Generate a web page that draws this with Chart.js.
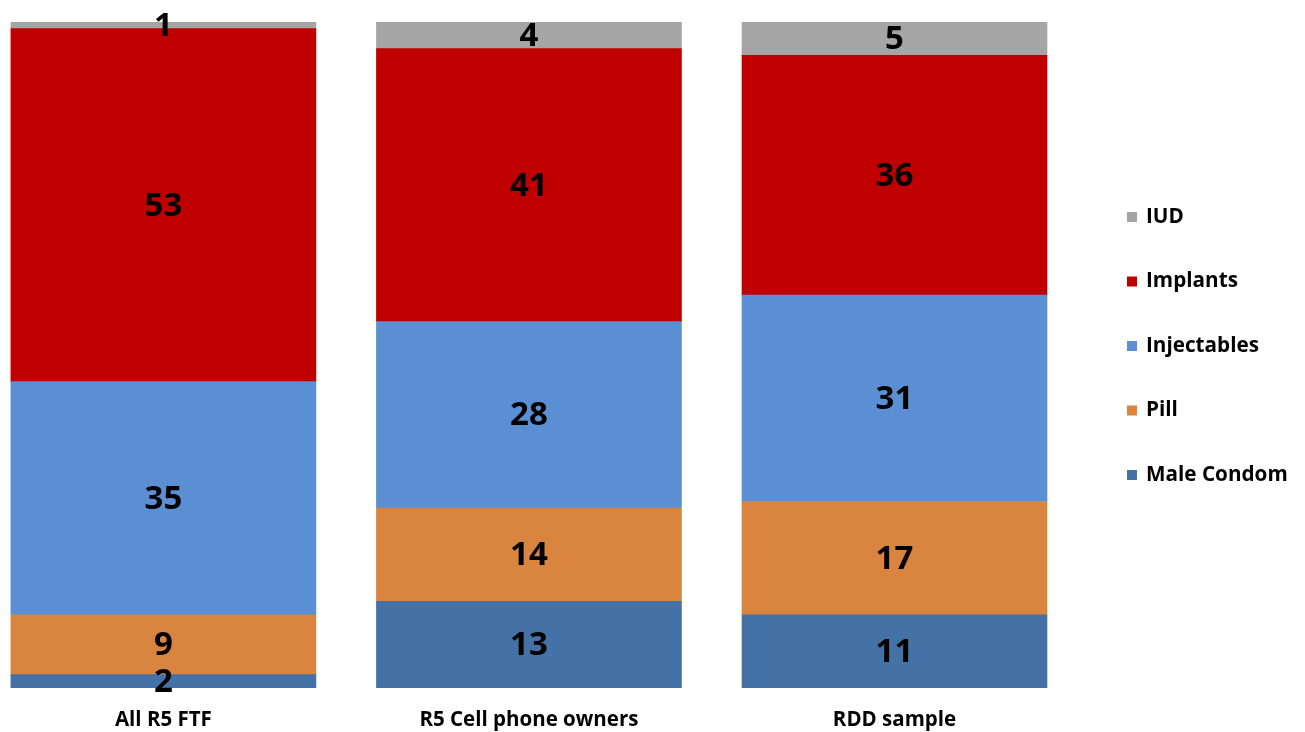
<!DOCTYPE html>
<html>
<head>
<meta charset="utf-8">
<script src="https://cdn.jsdelivr.net/npm/chart.js@4.4.1/dist/chart.umd.min.js"></script>
<style>
    html, body { margin: 0; padding: 0; background: #ffffff; }
    #wrap { width: 1305px; height: 732px; position: relative; }
</style>
</head>
<body>
<div id="wrap"><canvas id="methodChart"></canvas></div>
<script>
// Categories (x axis)
const categories = ['All R5 FTF', 'R5 Cell phone owners', 'RDD sample'];

// Series values, bottom to top of each stack
const maleCondom  = [2, 13, 11];
const pill        = [9, 14, 17];
const injectables = [35, 28, 31];
const implants    = [53, 41, 36];
const iud         = [1, 4, 5];

const seriesNames  = ['Male Condom', 'Pill', 'Injectables', 'Implants', 'IUD'];
const seriesValues = [maleCondom, pill, injectables, implants, iud];
const seriesColors = ['#4472a6', '#d9843f', '#5a8fd4', '#c00000', '#a5a5a5'];

const FONT = "'Open Sans', 'DejaVu Sans', sans-serif";

/**
 * Draw the value in the middle of every bar segment
 */
const segmentLabels = {
    id: 'segmentLabels',
    afterDatasetsDraw(chart) {
        const ctx = chart.ctx;
        ctx.save();
        ctx.font = `bold 33px ${FONT}`;
        ctx.fillStyle = '#000000';
        ctx.textAlign = 'center';
        ctx.textBaseline = 'middle';
        chart.data.datasets.forEach((ds, i) => {
            const meta = chart.getDatasetMeta(i);
            meta.data.forEach((bar, j) => {
                const p = bar.getCenterPoint();
                ctx.fillText(String(ds.data[j].y), p.x, p.y + 1);
            });
        });
        ctx.restore();
    }
};

/**
 * Legend on the right, top item is the top of the stack
 */
const sideLegend = {
    id: 'sideLegend',
    afterDraw(chart, args, opts) {
        const ctx = chart.ctx;
        const items = chart.data.datasets.slice().reverse();
        ctx.save();
        ctx.font = `bold 20.7px ${FONT}`;
        ctx.textAlign = 'left';
        ctx.textBaseline = 'middle';
        items.forEach((ds, k) => {
            const y = opts.top + k * opts.spacing;
            ctx.fillStyle = ds.backgroundColor;
            ctx.fillRect(opts.left, y - opts.box / 2, opts.box, opts.box);
            ctx.fillStyle = '#000000';
            ctx.fillText(ds.label, opts.textLeft, y);
        });
        ctx.restore();
    }
};

const datasets = seriesNames.map((name, i) => ({
    label: name,
    data: seriesValues[i].map((v, j) => ({ x: j, y: v })),
    backgroundColor: seriesColors[i],
    borderWidth: 0,
    barThickness: 305
}));

new Chart(document.getElementById('methodChart'), {
    type: 'bar',
    data: { datasets },
    plugins: [segmentLabels, sideLegend],
    options: {
        responsive: true,
        maintainAspectRatio: false,
        animation: false,
        layout: { padding: { top: 22, left: 0, right: 0, bottom: 0 } },
        plugins: {
            legend: { display: false },
            tooltip: { enabled: false },
            sideLegend: { left: 1127, textLeft: 1146, top: 217, spacing: 64.5, box: 10 }
        },
        scales: {
            x: {
                type: 'linear',
                stacked: true,
                offset: false,
                min: -0.447,
                max: 3.123,
                afterBuildTicks: scale => {
                    scale.ticks = categories.map((_, i) => ({ value: i }));
                },
                afterFit: scale => {
                    // keep the plot flush with the canvas edges
                    scale.paddingLeft = 0;
                    scale.paddingRight = 0;
                    scale.paddingTop = 0;
                    scale.paddingBottom = 0;
                    scale.height = 44;
                },
                grid: { display: false, drawTicks: false, offset: false },
                border: { display: false },
                ticks: {
                    autoSkip: false,
                    maxRotation: 0,
                    padding: 20,
                    color: '#000000',
                    font: { family: FONT, size: 20.5, weight: 'bold' },
                    callback: v => categories[v]
                }
            },
            y: {
                stacked: true,
                min: 0,
                max: 100,
                display: false
            }
        }
    }
});
</script>
</body>
</html>
